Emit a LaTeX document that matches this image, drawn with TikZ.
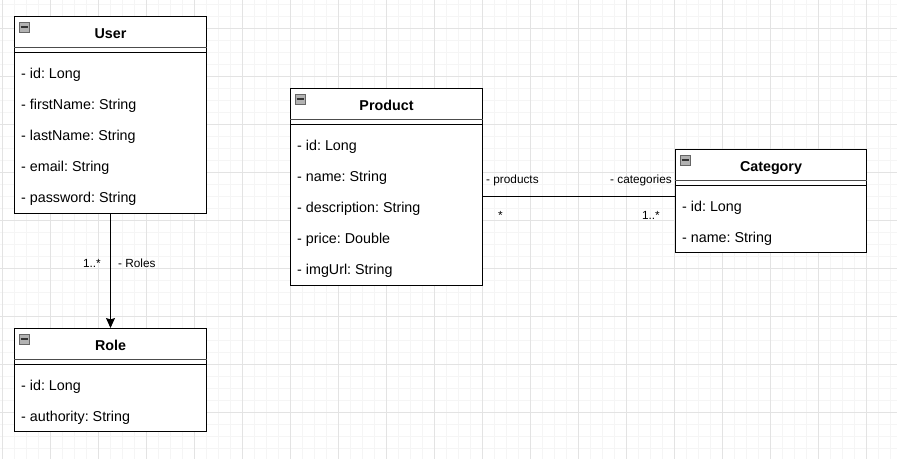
\documentclass[tikz,border=0pt]{standalone}
\usepackage{fontspec}
\setmainfont{Liberation Sans}
\usetikzlibrary{arrows.meta,positioning}
\frenchspacing

\begin{document}
\begin{tikzpicture}[
    x=1pt,y=-1pt,
    every node/.style={font=\fontsize{14.3}{17}\selectfont},
    classbox/.style={draw,line width=1pt,fill=white,anchor=north west,
                     minimum width=192pt,inner sep=0pt},
    title/.style={anchor=base,inner sep=0pt,font=\fontsize{14.3}{17}\selectfont\bfseries},
    attr/.style={anchor=base west,inner sep=0pt},
    sepA/.style={line width=1pt,black!70},
    sepB/.style={line width=1pt},
    icon/.style={draw=black!60,fill=black!30,line width=0.8pt,minimum size=10pt,inner sep=0pt,
                 path picture={\draw[line width=1.4pt,black!80]
                   ([xshift=1.5pt]path picture bounding box.west) --
                   ([xshift=-1.5pt]path picture bounding box.east);}},
    arr/.style={-{Stealth[length=10pt,width=9pt,inset=1.5pt]},line width=1pt},
    assoc/.style={line width=1pt},
    lab/.style={inner sep=0pt,font=\fontsize{11.8}{14}\selectfont},
    minor/.style={black!4,line width=0.7pt},
    major/.style={black!11,line width=0.8pt}
  ]
  \useasboundingbox (0,0) rectangle (897,459);
  %% Background grid
  \foreach \x in {2,14,...,896} \draw[minor] (\x,0) -- (\x,459);
  \foreach \y in {4,16,...,458} \draw[minor] (0,\y) -- (897,\y);
  \foreach \x in {2,50,...,896} \draw[major] (\x,0) -- (\x,459);
  \foreach \y in {28,76,...,458} \draw[major] (0,\y) -- (897,\y);

  %% Class User
  \node[classbox,minimum height=197pt] (user) at (14,16) {};
  \draw[sepA] ([yshift=-31pt]user.north west) -- ([yshift=-31pt]user.north east);
  \draw[sepB] ([yshift=-36pt]user.north west) -- ([yshift=-36pt]user.north east);
  \node[icon] (userI) at ([xshift=10pt,yshift=-11pt]user.north west) {};
  \node[title] (userT) at ([yshift=-22pt]user.north) {User};
  \node[attr] (userA1) at ([xshift=7pt,yshift=-62.5pt]user.north west) {- id: Long};
  \node[attr] (userA2) at ([xshift=7pt,yshift=-93.5pt]user.north west) {- firstName: String};
  \node[attr] (userA3) at ([xshift=7pt,yshift=-124.5pt]user.north west) {- lastName: String};
  \node[attr] (userA4) at ([xshift=7pt,yshift=-155.5pt]user.north west) {- email: String};
  \node[attr] (userA5) at ([xshift=7pt,yshift=-186.5pt]user.north west) {- password: String};

  %% Class Role
  \node[classbox,minimum height=103pt] (role) at (14,328) {};
  \draw[sepA] ([yshift=-31pt]role.north west) -- ([yshift=-31pt]role.north east);
  \draw[sepB] ([yshift=-36pt]role.north west) -- ([yshift=-36pt]role.north east);
  \node[icon] (roleI) at ([xshift=10pt,yshift=-11pt]role.north west) {};
  \node[title] (roleT) at ([yshift=-22pt]role.north) {Role};
  \node[attr] (roleA1) at ([xshift=7pt,yshift=-62.5pt]role.north west) {- id: Long};
  \node[attr] (roleA2) at ([xshift=7pt,yshift=-93.5pt]role.north west) {- authority: String};

  %% Class Product
  \node[classbox,minimum height=197pt] (prod) at (290,88) {};
  \draw[sepA] ([yshift=-31pt]prod.north west) -- ([yshift=-31pt]prod.north east);
  \draw[sepB] ([yshift=-36pt]prod.north west) -- ([yshift=-36pt]prod.north east);
  \node[icon] (prodI) at ([xshift=10pt,yshift=-11pt]prod.north west) {};
  \node[title] (prodT) at ([yshift=-22pt]prod.north) {Product};
  \node[attr] (prodA1) at ([xshift=7pt,yshift=-62.5pt]prod.north west) {- id: Long};
  \node[attr] (prodA2) at ([xshift=7pt,yshift=-93.5pt]prod.north west) {- name: String};
  \node[attr] (prodA3) at ([xshift=7pt,yshift=-124.5pt]prod.north west) {- description: String};
  \node[attr] (prodA4) at ([xshift=7pt,yshift=-155.5pt]prod.north west) {- price: Double};
  \node[attr] (prodA5) at ([xshift=7pt,yshift=-186.5pt]prod.north west) {- imgUrl: String};

  %% Class Category
  \node[classbox,minimum height=103pt,minimum width=191pt] (cat) at (675,149) {};
  \draw[sepA] ([yshift=-31pt]cat.north west) -- ([yshift=-31pt]cat.north east);
  \draw[sepB] ([yshift=-36pt]cat.north west) -- ([yshift=-36pt]cat.north east);
  \node[icon] (catI) at ([xshift=10pt,yshift=-11pt]cat.north west) {};
  \node[title] (catT) at ([yshift=-22pt]cat.north) {Category};
  \node[attr] (catA1) at ([xshift=7pt,yshift=-62.5pt]cat.north west) {- id: Long};
  \node[attr] (catA2) at ([xshift=7pt,yshift=-93.5pt]cat.north west) {- name: String};

  %% User -> Role
  \draw[arr] (user.south) -- (role.north);
  \node[lab,anchor=base east] (rolesM) at (101,267) {1..*};
  \node[lab,anchor=base west] (rolesN) at (118,267) {- Roles};

  %% Product -- Category
  \coordinate (pcL) at ([yshift=-108pt]prod.north east);
  \draw[assoc] (pcL) -- (pcL -| cat.west);
  \node[lab,anchor=base west] (prodN) at (486,183) {- products};
  \node[lab,anchor=base east] (catN) at (672,183) {- categories};
  \node[lab,anchor=base west] (prodM) at (498,219) {*};
  \node[lab,anchor=base east] (catM) at (660,219) {1..*};
\end{tikzpicture}
\end{document}
